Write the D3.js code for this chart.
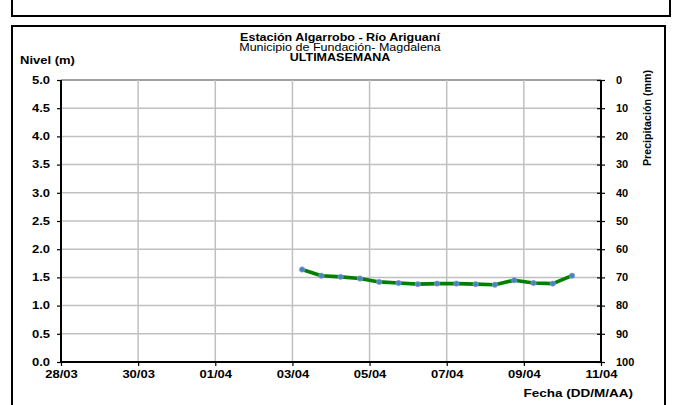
<!DOCTYPE html>
<html><head><meta charset="utf-8">
<script src="https://cdn.jsdelivr.net/npm/d3@7"></script>
<style>body{margin:0;background:#fff}svg{display:block}text{font-family:Arial,"Liberation Sans",sans-serif}</style>
</head><body>
<script>
// ---- data ----
const titleLines = ["Estación Algarrobo - Río Ariguaní", "Municipio de Fundación- Magdalena", "ULTIMASEMANA"];
const xTickLabels = ["28/03","30/03","01/04","03/04","05/04","07/04","09/04","11/04"];
const yTicks = [0,0.5,1,1.5,2,2.5,3,3.5,4,4.5,5];
const y2Ticks = [0,10,20,30,40,50,60,70,80,90,100];
const times = ["2024-04-03T06:00","2024-04-03T18:00","2024-04-04T06:00","2024-04-04T18:00","2024-04-05T06:00","2024-04-05T18:00","2024-04-06T06:00","2024-04-06T18:00","2024-04-07T06:00","2024-04-07T18:00","2024-04-08T06:00","2024-04-08T18:00","2024-04-09T06:00","2024-04-09T18:00","2024-04-10T06:00"];
const nivel = [1.64,1.53,1.51,1.48,1.42,1.40,1.38,1.39,1.39,1.38,1.37,1.45,1.40,1.39,1.53];

const W=679,H=405;
const svg=d3.select("body").append("svg").attr("width",W).attr("height",H);
const parse=d3.timeParse("%Y-%m-%dT%H:%M");
const x0=parse("2024-03-28T00:00"), x1=parse("2024-04-11T00:00");
const x=d3.scaleTime().domain([x0,x1]).range([61,601]);
const y=d3.scaleLinear().domain([0,5]).range([362,80]);
const y2=d3.scaleLinear().domain([0,100]).range([80,362]);
const tickDates=d3.range(0,15,2).map(d=>d3.timeDay.offset(x0,d));

function stretch(sel,f){
  sel.each(function(){const L=this.getComputedTextLength();d3.select(this).attr("textLength",L*f).attr("lengthAdjust","spacingAndGlyphs");});
}

// boxes
svg.append("rect").attr("x",12).attr("y",-10).attr("width",658).attr("height",26).attr("fill","none").attr("stroke","#000").attr("stroke-width",2);
svg.append("rect").attr("x",12).attr("y",26).attr("width",653).attr("height",400).attr("fill","none").attr("stroke","#000").attr("stroke-width",2);

// grid
svg.append("g").selectAll("line").data(yTicks.slice(1)).join("line")
 .attr("x1",61).attr("x2",601).attr("y1",d=>y(d)).attr("y2",d=>y(d))
 .attr("stroke",d=>d===5?"#808080":"#c0c0c0").attr("stroke-width",1.5);
svg.append("g").selectAll("line").data(tickDates.slice(1,-1)).join("line")
 .attr("x1",d=>x(d)).attr("x2",d=>x(d)).attr("y1",80).attr("y2",362)
 .attr("stroke","#c0c0c0").attr("stroke-width",1.5);

// left axis
const gl=svg.append("g").attr("transform","translate(61,0)")
 .call(d3.axisLeft(y).tickValues(yTicks).tickFormat(d3.format(".1f")).tickSize(4).tickPadding(7));
// right axis
const gr=svg.append("g").attr("transform","translate(601,0)")
 .call(d3.axisRight(y2).tickValues(y2Ticks).tickSize(4).tickPadding(11));
gr.selectAll(".tick line").attr("x1",-4);
// bottom axis
const gb=svg.append("g").attr("transform","translate(0,362)")
 .call(d3.axisBottom(x).tickValues(tickDates).tickFormat((d,i)=>xTickLabels[i]).tickSize(4).tickPadding(5));
[gl,gr,gb].forEach(g=>{
 g.selectAll(".domain").attr("stroke","#000").attr("stroke-width",2);
 g.selectAll(".tick line").attr("stroke","#000").attr("stroke-width",1.2);
 g.selectAll("text").attr("font-size",10).attr("font-weight","bold").attr("fill","#000");
});
gl.select(".domain").attr("d","M0,80V362");
gr.select(".domain").attr("d","M0,80V362");
gb.select(".domain").attr("d","M61,0H601");
stretch(gl.selectAll("text"),1.3);
stretch(gb.selectAll("text"),1.3);
stretch(gr.selectAll("text"),1.1);

// line
const line=d3.line().x((d,i)=>x(parse(times[i]))).y(d=>y(d));
svg.append("path").datum(nivel).attr("d",line).attr("fill","none").attr("stroke","#008000").attr("stroke-width",3.6).attr("stroke-linejoin","round");
svg.append("g").selectAll("circle").data(nivel).join("circle")
 .attr("cx",(d,i)=>x(parse(times[i]))).attr("cy",d=>y(d)).attr("r",2.7).attr("fill","#4f81bd").attr("stroke","#7fa7d6").attr("stroke-width",0.6);

// titles
const t1=svg.append("text").attr("x",340).attr("y",41).attr("text-anchor","middle").attr("font-size",10).attr("font-weight","bold").text(titleLines[0]);
const t2=svg.append("text").attr("x",340).attr("y",51).attr("text-anchor","middle").attr("font-size",10).text(titleLines[1]);
const t3=svg.append("text").attr("x",340).attr("y",61).attr("text-anchor","middle").attr("font-size",10).attr("font-weight","bold").text(titleLines[2]);
stretch(t1,1.25);stretch(t2,1.25);stretch(t3,1.25);
const nl=svg.append("text").attr("x",20).attr("y",64).attr("font-size",10).attr("font-weight","bold").text("Nivel (m)");
stretch(nl,1.3);
const fl=svg.append("text").attr("x",633).attr("y",397).attr("text-anchor","end").attr("font-size",10).attr("font-weight","bold").text("Fecha (DD/M/AA)");
stretch(fl,1.35);
svg.append("text").attr("transform","translate(651,118) rotate(-90)").attr("text-anchor","middle").attr("font-size",10).attr("font-weight","bold")
 .attr("textLength",96).attr("lengthAdjust","spacingAndGlyphs").text("Precipitación (mm)");
</script>
</body></html>
